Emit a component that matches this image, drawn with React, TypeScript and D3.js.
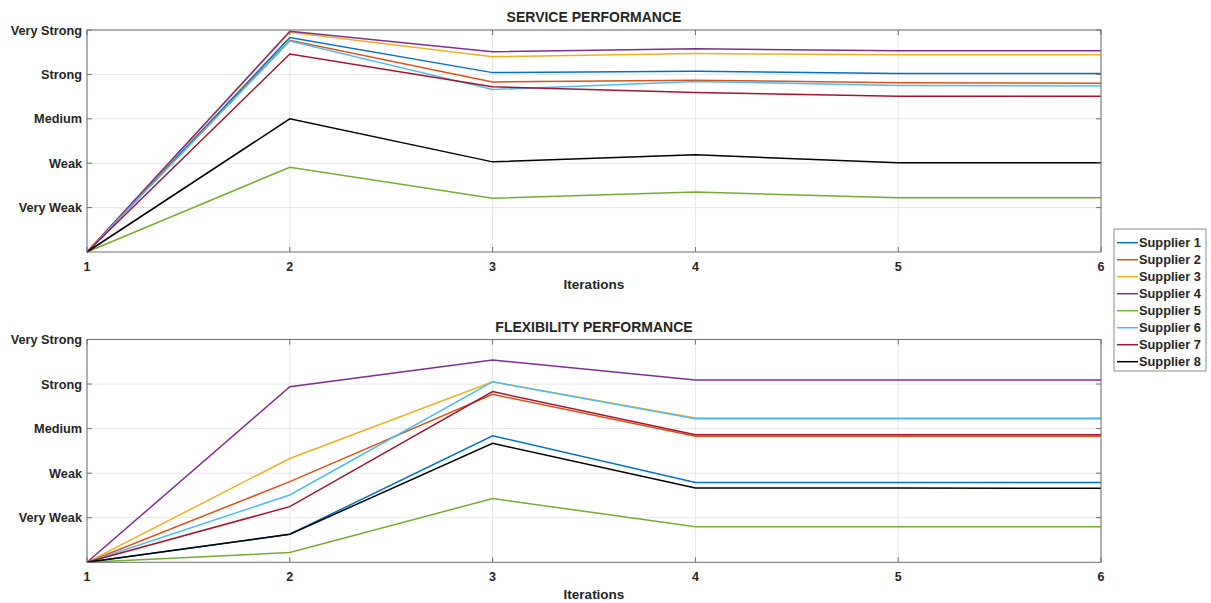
import React from "react";
import * as d3 from "d3";

const iterations = [1, 2, 3, 4, 5, 6];
const yTickValues = [1, 2, 3, 4, 5];
const yTickLabels = ["Very Weak", "Weak", "Medium", "Strong", "Very Strong"];
const supplierNames = ["Supplier 1", "Supplier 2", "Supplier 3", "Supplier 4", "Supplier 5", "Supplier 6", "Supplier 7", "Supplier 8"];
const supplierColors = ["#0072BD", "#D95319", "#EDB120", "#7E2F8E", "#77AC30", "#4DBEEE", "#A2142F", "#000000"];

const serviceS1 = [0, 4.83, 4.04, 4.07, 4.02, 4.02];
const serviceS2 = [0, 4.77, 3.83, 3.87, 3.81, 3.80];
const serviceS3 = [0, 4.95, 4.40, 4.47, 4.44, 4.44];
const serviceS4 = [0, 4.97, 4.51, 4.58, 4.53, 4.53];
const serviceS5 = [0, 1.91, 1.21, 1.35, 1.22, 1.22];
const serviceS6 = [0, 4.75, 3.66, 3.84, 3.75, 3.74];
const serviceS7 = [0, 4.46, 3.72, 3.59, 3.51, 3.51];
const serviceS8 = [0, 3.0, 2.03, 2.19, 2.01, 2.01];

const flexS1 = [0, 0.63, 2.84, 1.79, 1.79, 1.79];
const flexS2 = [0, 1.81, 3.77, 2.83, 2.83, 2.83];
const flexS3 = [0, 2.33, 4.05, 3.24, 3.24, 3.24];
const flexS4 = [0, 3.94, 4.54, 4.09, 4.09, 4.09];
const flexS5 = [0, 0.22, 1.43, 0.80, 0.80, 0.80];
const flexS6 = [0, 1.51, 4.05, 3.22, 3.22, 3.22];
const flexS7 = [0, 1.25, 3.83, 2.86, 2.86, 2.86];
const flexS8 = [0, 0.63, 2.67, 1.67, 1.67, 1.66];

const serviceSeries = [serviceS1, serviceS2, serviceS3, serviceS4, serviceS5, serviceS6, serviceS7, serviceS8];
const flexSeries = [flexS1, flexS2, flexS3, flexS4, flexS5, flexS6, flexS7, flexS8];

const FONT = "'Liberation Sans', Arial, Helvetica, sans-serif";
const TEXT = "#262626";
const AXIS = "#707070";

function Panel({ top, bottom, title, series }: { top: number; bottom: number; title: string; series: number[][] }) {
  const left = 87;
  const right = 1101;
  const x = d3.scaleLinear().domain([1, 6]).range([left, right]);
  const y = d3.scaleLinear().domain([0, 5]).range([bottom, top]);
  const line = d3
    .line<number>()
    .x((_, i) => x(iterations[i]))
    .y((d) => y(d));
  const tickLen = 5;
  return (
    <g>
      {/* grid */}
      {iterations.map((t) => (
        <line key={"gx" + t} x1={x(t)} x2={x(t)} y1={top} y2={bottom} stroke="#e6e6e6" strokeWidth={1} />
      ))}
      {yTickValues.map((t) => (
        <line key={"gy" + t} x1={left} x2={right} y1={y(t)} y2={y(t)} stroke="#e6e6e6" strokeWidth={1} />
      ))}
      {/* series */}
      {series.map((s, i) => (
        <path key={"s" + i} d={line(s) || ""} fill="none" stroke={supplierColors[i]} strokeWidth={1.5} />
      ))}
      {/* box */}
      <rect x={left} y={top} width={right - left} height={bottom - top} fill="none" stroke={AXIS} strokeWidth={1} />
      {/* ticks */}
      {iterations.map((t) => (
        <g key={"tx" + t}>
          <line x1={x(t)} x2={x(t)} y1={bottom} y2={bottom - tickLen} stroke={AXIS} />
          <line x1={x(t)} x2={x(t)} y1={top} y2={top + tickLen} stroke={AXIS} />
          <text x={x(t)} y={bottom + 19} textAnchor="middle" fontFamily={FONT} fontWeight="bold" fontSize={12.5} fill={TEXT}>
            {t}
          </text>
        </g>
      ))}
      {yTickValues.map((t, i) => (
        <g key={"ty" + t}>
          <line x1={left} x2={left + tickLen} y1={y(t)} y2={y(t)} stroke={AXIS} />
          <line x1={right} x2={right - tickLen} y1={y(t)} y2={y(t)} stroke={AXIS} />
          <text x={left - 5} y={y(t) + 4.5} textAnchor="end" fontFamily={FONT} fontWeight="bold" fontSize={12.7} fill={TEXT}>
            {yTickLabels[i]}
          </text>
        </g>
      ))}
      <text x={(left + right) / 2} y={top - 8} textAnchor="middle" fontFamily={FONT} fontWeight="bold" fontSize={14} fill={TEXT}>
        {title}
      </text>
      <text x={(left + right) / 2} y={bottom + 37} textAnchor="middle" fontFamily={FONT} fontWeight="bold" fontSize={13.5} fill={TEXT}>
        Iterations
      </text>
    </g>
  );
}

export default function App() {
  const legendX = 1114;
  const legendY = 229;
  const legendW = 92;
  const legendH = 142;
  return (
    <svg width={1211} height={603} style={{ position: "absolute", left: 0, top: 0, background: "#fff" }}>
      <rect x={0} y={0} width={1211} height={603} fill="#fff" />
      <Panel top={30} bottom={252} title="SERVICE PERFORMANCE" series={serviceSeries} />
      <Panel top={339.5} bottom={562.3} title="FLEXIBILITY PERFORMANCE" series={flexSeries} />
      <g>
        <rect x={legendX} y={legendY} width={legendW} height={legendH} fill="#fff" stroke="#8a8a8a" strokeWidth={1} />
        {supplierNames.map((n, i) => {
          const yy = 242.7 + i * 17;
          return (
            <g key={n}>
              <line x1={1117} x2={1138} y1={yy} y2={yy} stroke={supplierColors[i]} strokeWidth={1.5} />
              <text x={1139} y={yy + 4.5} fontFamily={FONT} fontWeight="bold" fontSize={12.8} fill={TEXT}>
                {n}
              </text>
            </g>
          );
        })}
      </g>
    </svg>
  );
}
